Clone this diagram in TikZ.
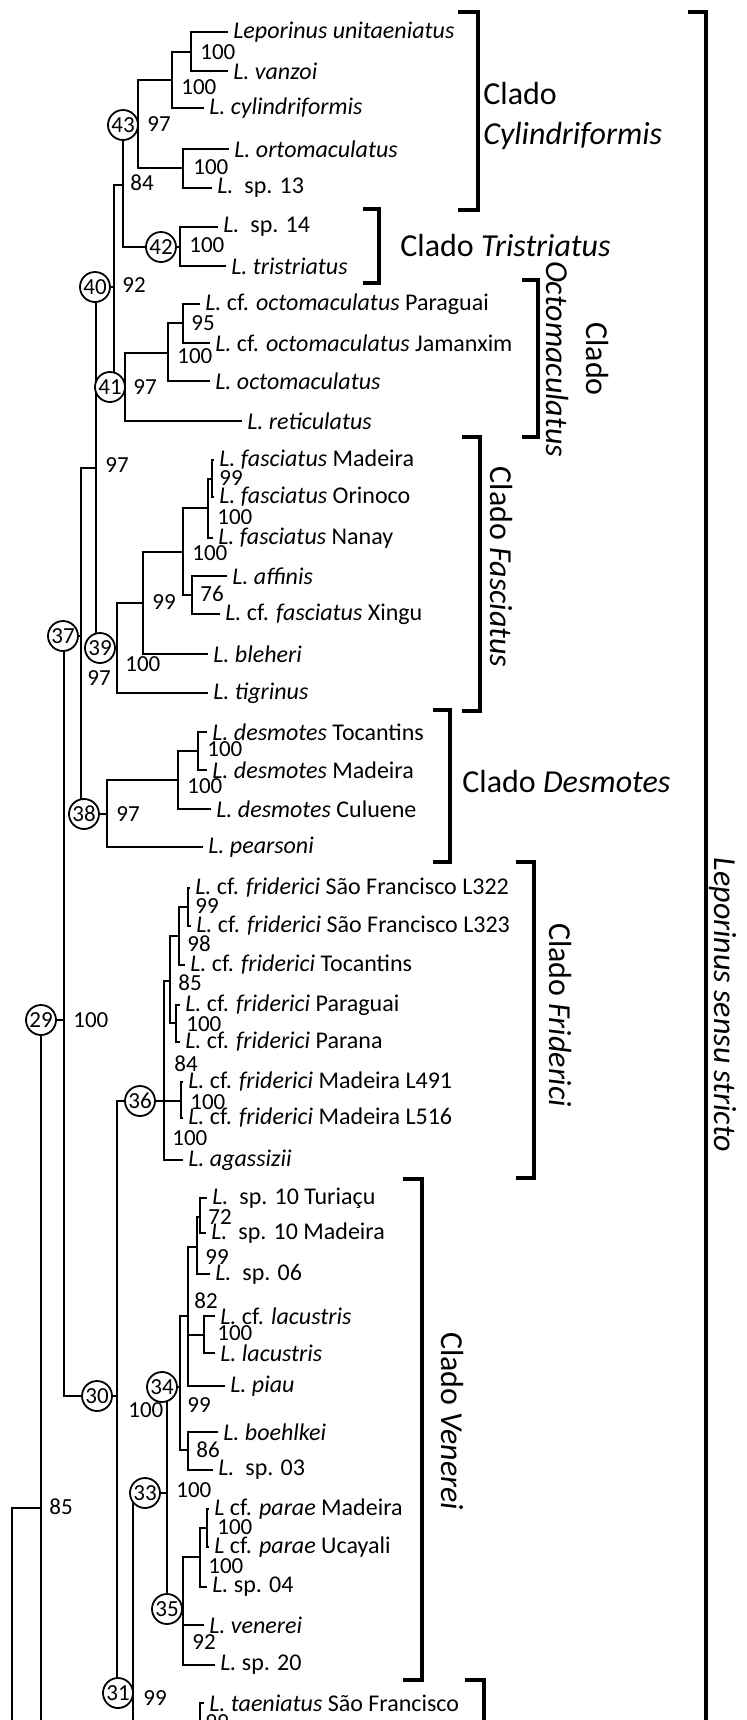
\documentclass[tikz,border=0pt]{standalone}
\usepackage{fontspec}
\setmainfont{Carlito}
\usetikzlibrary{positioning}

\begin{document}
\begin{tikzpicture}[
  x=0.5pt, y=-0.5pt, font=\fontsize{11.5}{14}\selectfont,
  branch/.style={line width=1pt, line cap=rect},
  tip/.style={anchor=west, inner xsep=3pt, inner ysep=0pt, font=\fontsize{12}{14}\selectfont},
  bs/.style={anchor=west, inner sep=0pt},
  nd/.style={circle, draw, line width=0.9pt, fill=white, minimum size=15pt, inner sep=0pt},
  clade/.style={line width=2pt},
  cladelab/.style={inner sep=0pt, font=\fontsize{16}{20}\selectfont},
]
  \useasboundingbox (0,0) rectangle (747,1720);
  \clip (0,0) rectangle (747,1720);

  % terminal taxa
  \node[tip] (unit) at (227,32) {\textit{Leporinus unitaeniatus}};
  \node[tip] (vanz) at (227,71) {\textit{L. vanzoi}};
  \node[tip] (cyl) at (203,108) {\textit{L. cylindriformis}};
  \node[tip] (orto) at (228,149) {\textit{L. ortomaculatus}};
  \node[tip] (sp13) at (211,188) {\textit{L.}\ \ sp. 13};
  \node[tip] (sp14) at (217,227) {\textit{L.}\ \ sp. 14};
  \node[tip] (tris) at (225,266) {\textit{L. tristriatus}};
  \node[tip] (ocPar) at (199,304) {\textit{L.} cf. \textit{octomaculatus} Paraguai};
  \node[tip] (ocJam) at (209,343) {\textit{L.} cf. \textit{octomaculatus} Jamanxim};
  \node[tip] (octo) at (209,381) {\textit{L. octomaculatus}};
  \node[tip] (reti) at (241,421) {\textit{L. reticulatus}};
  \node[tip] (faMad) at (213,460) {\textit{L. fasciatus} Madeira};
  \node[tip] (faOri) at (213,497) {\textit{L. fasciatus} Orinoco};
  \node[tip] (faNan) at (212,538) {\textit{L. fasciatus} Nanay};
  \node[tip] (affi) at (226,576) {\textit{L. affinis}};
  \node[tip] (faXin) at (219,614) {\textit{L.} cf. \textit{fasciatus} Xingu};
  \node[tip] (bleh) at (207,654) {\textit{L. bleheri}};
  \node[tip] (tigr) at (207,693) {\textit{L. tigrinus}};
  \node[tip] (deToc) at (206,732) {\textit{L. desmotes} Tocantins};
  \node[tip] (deMad) at (206,770) {\textit{L. desmotes} Madeira};
  \node[tip] (deCul) at (210,809) {\textit{L. desmotes} Culuene};
  \node[tip] (pear) at (202,847) {\textit{L. pearsoni}};
  \node[tip] (frA) at (189,888) {\textit{L.} cf. \textit{friderici} São Francisco L322};
  \node[tip] (frB) at (190,926) {\textit{L.} cf. \textit{friderici} São Francisco L323};
  \node[tip] (frToc) at (184,965) {\textit{L.} cf. \textit{friderici} Tocantins};
  \node[tip] (frPar) at (179,1005) {\textit{L.} cf. \textit{friderici} Paraguai};
  \node[tip] (frPna) at (179,1042) {\textit{L.} cf. \textit{friderici} Parana};
  \node[tip] (frC) at (182,1082) {\textit{L.} cf. \textit{friderici} Madeira L491};
  \node[tip] (frD) at (182,1118) {\textit{L.} cf. \textit{friderici} Madeira L516};
  \node[tip] (agas) at (182,1160) {\textit{L. agassizii}};
  \node[tip] (sp10T) at (206,1198) {\textit{L.}\ \ sp. 10 Turiaçu};
  \node[tip] (sp10M) at (205,1233) {\textit{L.}\ \ sp. 10 Madeira};
  \node[tip] (sp06) at (209,1274) {\textit{L.}\ \ sp. 06};
  \node[tip] (cflac) at (214,1316) {\textit{L.} cf. \textit{lacustris}};
  \node[tip] (lacu) at (214,1353) {\textit{L. lacustris}};
  \node[tip] (piau) at (224,1386) {\textit{L. piau}};
  \node[tip] (boeh) at (217,1432) {\textit{L. boehlkei}};
  \node[tip] (sp03) at (212,1470) {\textit{L.}\ \ sp. 03};
  \node[tip] (paMad) at (208,1509) {\textit{L} cf. \textit{parae} Madeira};
  \node[tip] (paUca) at (208,1547) {\textit{L} cf. \textit{parae} Ucayali};
  \node[tip] (sp04) at (206,1587) {\textit{L.} sp. 04};
  \node[tip] (vene) at (203,1625) {\textit{L. venerei}};
  \node[tip] (sp20) at (214,1665) {\textit{L.} sp. 20};
  \node[tip] (taen) at (203,1703) {\textit{L. taeniatus} São Francisco};

  % internal nodes (vertical x, stem y)
  \coordinate (nbase) at (12,1760);
  \coordinate (nlow) at (60,1760);
  \coordinate (n85) at (41,1508);
  \coordinate (n29) at (64,1020);
  \coordinate (n37) at (81,636);
  \coordinate (n97) at (96,468);
  \coordinate (n40) at (114,287);
  \coordinate (n84) at (123,185);
  \coordinate (n43) at (138,125);
  \coordinate (na) at (172,80);
  \coordinate (nc) at (191,52);
  \coordinate (nb) at (183,168);
  \coordinate (n42) at (180,247);
  \coordinate (n41) at (125,387);
  \coordinate (nd) at (168,353);
  \coordinate (ne) at (183,323);
  \coordinate (n39) at (117,648);
  \coordinate (nf) at (143,603);
  \coordinate (ng) at (183,552);
  \coordinate (nh) at (208,508);
  \coordinate (nj) at (212,479);
  \coordinate (ni) at (192,595);
  \coordinate (n38) at (107,814);
  \coordinate (nk) at (178,780);
  \coordinate (nl) at (198,751);
  \coordinate (n30) at (117,1396);
  \coordinate (n36) at (164,1101);
  \coordinate (nr) at (170,981);
  \coordinate (ns) at (179,936);
  \coordinate (nu) at (188,907);
  \coordinate (nt) at (176,1023);
  \coordinate (nv) at (181,1101);
  \coordinate (n31) at (133,1693);
  \coordinate (ntae) at (200,1745);
  \coordinate (n33) at (167,1493);
  \coordinate (n34) at (180,1387);
  \coordinate (nw) at (188,1316);
  \coordinate (ny) at (197,1247);
  \coordinate (naa) at (200,1217);
  \coordinate (nz) at (204,1335);
  \coordinate (nx) at (188,1450);
  \coordinate (n35) at (183,1609);
  \coordinate (nbb) at (200,1557);
  \coordinate (ncc) at (207,1528);

  % branches
  \foreach \p/\c in {nbase/n85, n85/nlow, n85/n29, n29/n37, n29/n30, n37/n97, n37/n38,
      n97/n40, n97/n39, n40/n84, n40/n41, n84/n43, n84/n42, n43/na, n43/nb,
      na/nc, na/cyl, nc/unit, nc/vanz, nb/orto, nb/sp13, n42/sp14, n42/tris,
      n41/nd, n41/reti, nd/ne, nd/octo, ne/ocPar, ne/ocJam,
      n39/nf, n39/tigr, nf/ng, nf/bleh, ng/nh, ng/ni, nh/nj, nh/faNan,
      nj/faMad, nj/faOri, ni/affi, ni/faXin,
      n38/nk, n38/pear, nk/nl, nk/deCul, nl/deToc, nl/deMad,
      n30/n36, n30/n31, n36/nr, n36/nv, n36/agas, nr/ns, nr/nt, ns/nu, ns/frToc,
      nu/frA, nu/frB, nt/frPar, nt/frPna, nv/frC, nv/frD,
      n31/n33, n31/ntae, ntae/taen, n33/n34, n33/n35, n34/nw, n34/nx,
      nw/ny, nw/nz, nw/piau, ny/naa, ny/sp06, naa/sp10T, naa/sp10M,
      nz/cflac, nz/lacu, nx/boeh, nx/sp03,
      n35/nbb, n35/vene, n35/sp20, nbb/ncc, nbb/sp04, ncc/paMad, ncc/paUca}
    {\draw[branch] (\p) |- (\c);}

  % numbered nodes
  \foreach \x/\y/\k in {123/125/43, 161/247/42, 95/287/40, 110/387/41, 100/648/39,
      63/636/37, 84/814/38, 41/1020/29, 140/1101/36, 97/1396/30, 162/1387/34,
      145/1493/33, 167/1609/35, 118/1693/31}
    {\node[nd] (c\k) at (\x,\y) {\k};}

  % bootstrap values
  \foreach \x/\y/\v [count=\i] in {200/52/100, 181/87/100, 147/124/97, 193/167/100,
      130/183/84, 189/245/100, 122/285/92, 191/323/95, 177/356/100, 133/387/97,
      105/465/97, 219/478/99, 217/517/100, 192/553/100, 200/594/76, 152/602/99,
      125/664/100, 87/678/97, 207/749/100, 187/786/100, 116/814/97,
      195/906/99, 187/944/98, 178/983/85, 73/1020/100, 186/1024/100, 174/1064/84,
      190/1102/100, 172/1138/100, 208/1217/72, 205/1257/99, 194/1301/82,
      217/1333/100, 187/1405/99, 128/1410/100, 196/1450/86, 176/1490/100,
      49/1507/85, 217/1527/100, 208/1566/100, 192/1642/92, 143/1698/99, 205/1722/99}
    {\node[bs] (b\i) at (\x,\y) {\v};}

  % clade brackets
  \draw[clade] (458,12) -| (478,210) -- (458,210);
  \draw[clade] (363,209) -| (379,283) -- (363,283);
  \draw[clade] (522,280) -| (538,437) -- (522,437);
  \draw[clade] (462,437) -| (480,711) -- (462,711);
  \draw[clade] (433,710) -| (450,862) -- (433,862);
  \draw[clade] (516,862) -| (534,1178) -- (516,1178);
  \draw[clade] (403,1179) -| (422,1680) -- (403,1680);
  \draw[clade] (465,1680) -| (484,1760);
  \draw[clade] (688,12) -| (706,1760);

  \node[cladelab, anchor=west, align=left] (lCyl) at (483,116) {Clado\\\textit{Cylindriformis}};
  \node[cladelab, anchor=west] (lTri) at (400,245) {Clado \textit{Tristriatus}};
  \node[cladelab, rotate=-90, align=center] (lOct) at (577,359) {Clado\\\textit{Octomaculatus}};
  \node[cladelab, rotate=-90] (lFas) at (501,567) {Clado \textit{Fasciatus}};
  \node[cladelab, anchor=west] (lDes) at (462,781) {Clado \textit{Desmotes}};
  \node[cladelab, rotate=-90] (lFri) at (560,1015) {Clado \textit{Friderici}};
  \node[cladelab, rotate=-90] (lVen) at (452,1421) {Clado \textit{Venerei}};
  \node[cladelab, rotate=-90] (lLep) at (723,1005) {\textit{Leporinus sensu stricto}};
\end{tikzpicture}
\end{document}
